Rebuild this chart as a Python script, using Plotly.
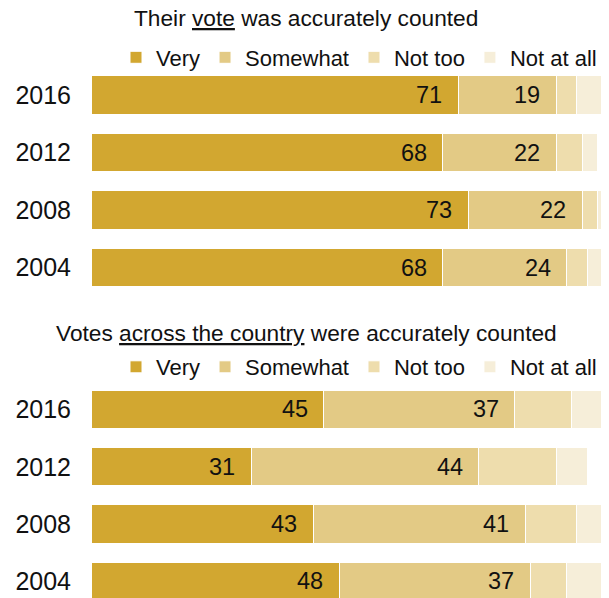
import plotly.graph_objects as go

years = ["2016", "2012", "2008", "2004"]
categories = ["Very", "Somewhat", "Not too", "Not at all"]

own_very = [71, 68, 73, 68]
own_somewhat = [19, 22, 22, 24]
own_nottoo = [4, 5, 3, 4]
own_notatall = [5, 3, 2, 3]

nat_very = [45, 31, 43, 48]
nat_somewhat = [37, 44, 41, 37]
nat_nottoo = [11, 15, 10, 7]
nat_notatall = [6, 6, 5, 7]

title_top = "Their <u>vote</u> was accurately counted"
title_bottom = "Votes <u>across the country</u> were accurately counted"

colors = ["#D2A730", "#E3CA85", "#EEDDAD", "#F6EED9"]
FONT = "Liberation Sans, Arial, sans-serif"

# page body has an 8px margin; size the figure so it fits the 609x598 window
OFF = 8
W, H = 609 - OFF, 598 - OFF
ML, MR = 91 - OFF, 1
PW = W - ML - MR


def py(ref_px):
    return 1 - (ref_px - OFF) / H


def px_(ref_px):
    return (ref_px - OFF - ML) / PW


fig = go.Figure()

panels = [
    ([own_very, own_somewhat, own_nottoo, own_notatall], "x", "y", "legend"),
    ([nat_very, nat_somewhat, nat_nottoo, nat_notatall], "x2", "y2", "legend2"),
]

for series, xa, ya, lg in panels:
    for name, vals, col in zip(categories, series, colors):
        fig.add_trace(go.Bar(
            y=years, x=vals, name=name, orientation="h",
            marker=dict(color=col, line=dict(color="white", width=1)),
            xaxis=xa, yaxis=ya, legend=lg, width=0.67,
            hoverinfo="skip",
        ))
    # value labels for "Very" and "Somewhat"
    cum = [0] * len(years)
    for k, vals in enumerate(series):
        cum = [c + v for c, v in zip(cum, vals)]
        if k < 2:
            for i, (v, c) in enumerate(zip(vals, cum)):
                fig.add_annotation(
                    x=c, y=i, xref=xa, yref=ya, text=str(v),
                    showarrow=False, xanchor="right", yanchor="middle",
                    xshift=-14, font=dict(size=23.5, color="#111", family=FONT),
                )

ycommon = dict(type="category", categoryorder="array", categoryarray=years,
               showgrid=False, zeroline=False, showline=False, ticks="",
               ticklabelstandoff=19, fixedrange=True,
               tickfont=dict(size=25, color="#111", family=FONT))
lgcommon = dict(orientation="h", x=px_(116), xanchor="left", yanchor="middle",
                font=dict(size=22, family=FONT, color="#111"),
                traceorder="normal", itemclick=False, itemdoubleclick=False,
                bgcolor="rgba(0,0,0,0)")

fig.update_layout(
    width=W, height=H,
    margin=dict(l=ML, r=MR, t=0, b=0),
    paper_bgcolor="white", plot_bgcolor="white",
    barmode="stack",
    font=dict(family=FONT, color="#111"),
    xaxis=dict(domain=[0, 1], range=[0, 100], visible=False, fixedrange=True),
    xaxis2=dict(domain=[0, 1], range=[0, 100], visible=False, fixedrange=True, anchor="y2"),
    yaxis=dict(domain=[py(296.25), py(66.25)], range=[3.5, -0.5], anchor="x", **ycommon),
    yaxis2=dict(domain=[0, py(380.8)], range=[3.29, -0.5], anchor="x2", **ycommon),
    legend=dict(y=py(57.5), **lgcommon),
    legend2=dict(y=py(367), **lgcommon),
    showlegend=True,
)

cx = px_(306)
fig.add_annotation(x=cx, y=py(18.5), xref="paper", yref="paper", text=title_top,
                   showarrow=False, xanchor="center", yanchor="middle", borderpad=0,
                   font=dict(size=22.7, family=FONT, color="#111"))
fig.add_annotation(x=cx, y=py(333), xref="paper", yref="paper", text=title_bottom,
                   showarrow=False, xanchor="center", yanchor="middle", borderpad=0,
                   font=dict(size=22.7, family=FONT, color="#111"))

fig.write_html("out.html", config={"displayModeBar": False})
